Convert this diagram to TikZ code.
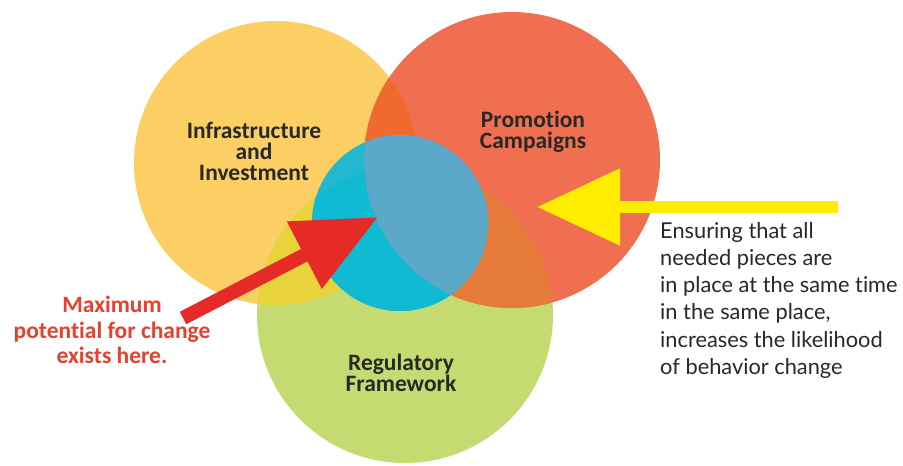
\documentclass[tikz,border=0pt]{standalone}
\usepackage{fontspec}
\setmainfont[Ligatures=CommonOff]{Carlito}
\newfontfamily\notefont[Ligatures=CommonOff]{Lato}
\usetikzlibrary{arrows.meta}
\definecolor{cY}{RGB}{251,207,99}
\definecolor{cR}{RGB}{239,111,80}
\definecolor{cG}{RGB}{197,219,114}
\definecolor{cYR}{RGB}{240,106,48}
\definecolor{cRG}{RGB}{230,122,58}
\definecolor{cYG}{RGB}{232,212,58}
\definecolor{cC}{RGB}{34,185,208}
\definecolor{cCR}{RGB}{91,168,200}
\definecolor{cCG}{RGB}{15,186,210}
\definecolor{arrR}{RGB}{229,42,39}
\definecolor{arrY}{RGB}{255,237,0}
\definecolor{txtR}{RGB}{229,65,46}
\definecolor{txtD}{RGB}{40,40,40}
\tikzset{
  label/.style={font=\bfseries\fontsize{23.5}{21}\selectfont, text=txtD, align=center, inner sep=0pt},
  redlabel/.style={font=\bfseries\fontsize{23.5}{25.5}\selectfont, text=txtR, align=center, inner sep=0pt},
  note/.style={font=\notefont\fontsize{21.8}{27.2}\selectfont, text=txtD, align=left, inner sep=0pt, anchor=north west},
  bigarrow/.style={line width=#1, line cap=butt},
}
\begin{document}
\begin{tikzpicture}[x=1pt,y=-1pt]
\useasboundingbox (0,0) rectangle (903,466);
\fill[white] (0,0) rectangle (903,466);
% circle centres
\coordinate (cy) at (276,163);
\coordinate (cr) at (512,160);
\coordinate (cg) at (405,315);
\coordinate (cc) at (400,223);
\def\rY{142}\def\rR{148}\def\rG{148}\def\rC{88}
% base circles
\fill[cY] (cy) circle[radius=\rY];
\fill[cG] (cg) circle[radius=\rG];
\fill[cR] (cr) circle[radius=\rR];
% overlaps
\begin{scope}
  \clip (cy) circle[radius=\rY];
  \fill[cYG] (cg) circle[radius=\rG];
  \fill[cYR] (cr) circle[radius=\rR];
\end{scope}
\begin{scope}
  \clip (cg) circle[radius=\rG];
  \fill[cRG] (cr) circle[radius=\rR];
\end{scope}
% centre circle
\fill[cC] (cc) circle[radius=\rC];
\begin{scope}
  \clip (cc) circle[radius=\rC];
  \fill[cCG] (cg) circle[radius=\rG];
  \fill[cCR] (cr) circle[radius=\rR];
\end{scope}
% labels
\node[label] (infra) at (254,151) {Infrastructure\\and\\Investment};
\node[label] (promo) at (533,132) {Promotion\\Campaigns};
\node[label] (regu) at (401,373) {Regulatory\\Framework};
\node[redlabel] (maxp) at (112,330) {Maximum\\potential for change\\exists here.};
\node[note] (ensure) at (660,222) {Ensuring that all\\needed pieces are\\in place at the same time\\in the same place,\\increases the likelihood\\of behavior change};
% arrows
\coordinate (rtail) at (183,318);
\coordinate (rtip) at (378,217);
\coordinate (ytail) at (838,207);
\coordinate (ytip) at (537,207);
\draw[arrR, bigarrow=14pt, -{Triangle[length=83pt,width=72pt]}] (rtail) -- (rtip);
\draw[arrY, bigarrow=12pt, -{Triangle[length=83pt,width=74pt]}] (ytail) -- (ytip);
\end{tikzpicture}
\end{document}
